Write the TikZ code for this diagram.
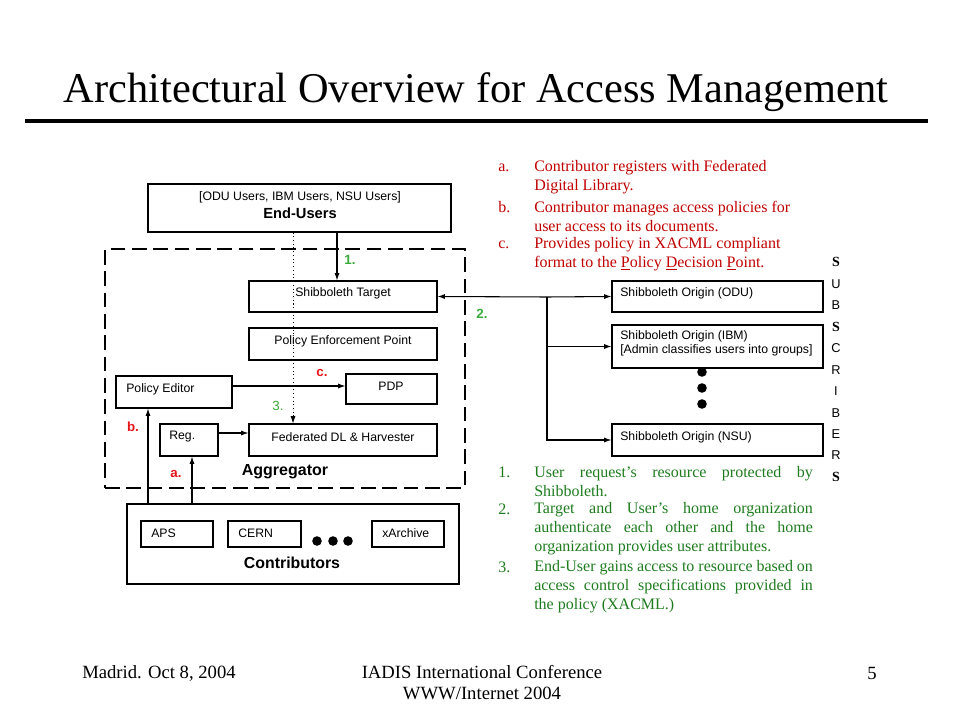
\documentclass[tikz,border=0pt]{standalone}
\usepackage{fontspec}
\setmainfont{Liberation Serif}
\newfontfamily\arialf{Liberation Sans}
\usetikzlibrary{arrows.meta,fit}
\definecolor{lred}{HTML}{C00000}
\definecolor{lgreen}{HTML}{1E7B1E}
\definecolor{dred}{HTML}{E8141B}
\definecolor{dgreen}{HTML}{3AAA3A}
\newcommand\jl[1]{\makebox[209pt][s]{#1}}
\begin{document}
\begin{tikzpicture}[x=0.75pt,y=-0.75pt,
  box/.style={draw, line width=0.8pt, inner sep=0pt},
  sf/.style={font=\arialf\fontsize{9.2}{11}\selectfont, inner sep=0pt},
  arr/.style={line width=0.8pt, -{Latex[length=5.5pt,width=3.8pt]}},
  lab/.style={font=\arialf\bfseries\fontsize{10}{12}\selectfont, inner sep=0pt},
  body/.style={font=\fontsize{12}{14.25}\selectfont, inner sep=0pt, align=left},
  foot/.style={font=\fontsize{14}{15.75}\selectfont, inner sep=0pt, align=center},
]
\useasboundingbox (0,0) rectangle (960,720);
% title
\node[font=\fontsize{31.8}{36}\selectfont, inner sep=0pt] (title) at (476,92) {Architectural Overview for Access Management};
\draw[line width=2.6pt] (25,121) -- (928,121);

% boxes
\node[box, fit={(148,184) (451,232)}] (eu) {};
\node[sf] (eut1) at (300,197) {[ODU Users, IBM Users, NSU Users]};
\node[font=\arialf\bfseries\fontsize{11}{13}\selectfont, inner sep=0pt] (eut2) at (300,213) {End-Users};
\node[box, line width=2.2pt, dash pattern=on 11pt off 5pt, fit={(105,249) (465,488)}] (agg) {};
\node[box, fit={(249,281) (437,312)}] (st) {};
\node[sf] (stt) at (343,293) {Shibboleth Target};
\node[box, fit={(249,328) (437,360)}] (pep) {};
\node[sf] (pept) at (343,341) {Policy Enforcement Point};
\node[box, fit={(346,374) (437,404)}] (pdp) {};
\node[sf] (pdpt) at (391,386) {PDP};
\node[box, fit={(116,376) (232,408)}] (pe) {};
\node[sf, anchor=west] (pet) at (126,389) {Policy Editor};
\node[box, fit={(160,424) (218,456)}] (reg) {};
\node[sf, anchor=west] (regt) at (169,437) {Reg.};
\node[box, fit={(249,424) (437,456)}] (fdl) {};
\node[sf] (fdlt) at (343,437) {Federated DL \& Harvester};
\node[font=\arialf\bfseries\fontsize{12}{14}\selectfont, inner sep=0pt] (aggt) at (285,472) {Aggregator};

\node[box, fit={(127,504) (459,584)}] (con) {};
\node[box, fit={(141,521) (213,547)}] (aps) {};
\node[sf, anchor=west] (apst) at (151,533) {APS};
\node[box, fit={(228,521) (301,547)}] (cern) {};
\node[sf, anchor=west] (cernt) at (238,533) {CERN};
\node[box, fit={(372,521) (444,547)}] (xar) {};
\node[sf, anchor=west] (xart) at (382,533) {xArchive};
\fill (317,541) circle[radius=4.8] (333,541) circle[radius=4.8] (348,541) circle[radius=4.8];
\node[font=\arialf\bfseries\fontsize{11.9}{14}\selectfont, inner sep=0pt] (cont) at (292,563) {Contributors};

\node[box, fit={(612,281) (823,312)}] (odu) {};
\node[sf, anchor=west] (odut) at (620,293) {Shibboleth Origin (ODU)};
\node[box, fit={(612,325) (823,368)}] (ibm) {};
\node[sf, anchor=west, align=left, font=\arialf\fontsize{9.2}{10.7}\selectfont] (ibmt) at (620,343) {Shibboleth Origin (IBM)\\{[Admin classifies users into groups]}};
\node[box, fit={(612,424) (823,456)}] (nsu) {};
\node[sf, anchor=west] (nsut) at (620,437) {Shibboleth Origin (NSU)};
\fill (702,372) circle[radius=4.8] (702,388) circle[radius=4.8] (702,404) circle[radius=4.8];

% SUBSCRIBERS
\node[font=\arialf\fontsize{9.6}{16.1}\selectfont, inner sep=0pt, align=center] (subs) at (836,369.5)
 {\textbf{\rmfamily\fontsize{10.5}{16.1}\selectfont S}\\U\\B\\\textbf{\rmfamily\fontsize{10.5}{16.1}\selectfont S}\\C\\R\\I\\B\\E\\R\\\textbf{\rmfamily\fontsize{10.5}{16.1}\selectfont S}};

% connectors
\coordinate (x1) at (337,0);
\coordinate (xd) at (293,0);
\coordinate (xb) at (148,0);
\coordinate (xa) at (192,0);
\coordinate (J) at (547,297);
\draw[arr] (eu.south -| x1) -- (st.north -| x1);
\draw[arr, dotted, line width=0.6pt] (eu.south -| xd) -- (fdl.north -| xd);
\draw[arr] ([yshift=4.5pt]pe.east) -- ([yshift=4.5pt]pe.east -| pdp.west);
\draw[arr] ([yshift=5.25pt]reg.east) -- ([yshift=5.25pt]reg.east -| fdl.west);
\draw[arr] (con.north -| xb) -- (pe.south -| xb);
\draw[arr] (con.north -| xa) -- (reg.south -| xa);
\draw[arr] (J) -- (st.east);
\draw[arr] (J) -- (odu.west);
\draw[arr] (J) |- (ibm.west);
\draw[arr] (J) |- (nsu.west);

% diagram labels
\node[lab, text=dgreen] (l1) at (350,260) {1.};
\node[lab, text=dgreen] (l2) at (482,314) {2.};
\node[lab, text=dgreen, font=\arialf\fontsize{10}{12}\selectfont] (l3) at (278,406) {3.};
\node[lab, text=dred] (lc) at (322,373) {c.};
\node[lab, text=dred] (lb) at (133,427) {b.};
\node[lab, text=dred] (la) at (176,474) {a.};

% red list
\begin{scope}[every node/.style={body, text=lred}]
\node[anchor=west] (ra) at (498,168) {a.};
\node[anchor=west] (rat) at (534,177) {Contributor registers with Federated\\Digital Library.};
\node[anchor=west] (rb) at (498,207) {b.};
\node[anchor=west] (rbt) at (534,216) {Contributor manages access policies for\\user access to its documents.};
\node[anchor=west] (rc) at (498,245) {c.};
\node[anchor=west] (rct) at (534,254) {Provides policy in XACML compliant\\format to the \underline{P}olicy \underline{D}ecision \underline{P}oint.};
\end{scope}

% green list
\begin{scope}[every node/.style={body, text=lgreen}]
\node[anchor=west] (g1) at (498,472) {1.};
\node[anchor=west] (g1t) at (534,482) {\jl{User request’s resource protected by}\\Shibboleth.};
\node[anchor=west] (g2) at (498,509) {2.};
\node[anchor=west] (g2t) at (534,529) {\jl{Target and User’s home organization}\\\jl{authenticate each other and the home}\\organization provides user attributes.};
\node[anchor=west] (g3) at (498,567) {3.};
\node[anchor=west] (g3t) at (534,587) {\jl{End-User gains access to resource based on}\\\jl{access control specifications provided in}\\the policy (XACML.)};
\end{scope}

% footer
\node[foot] (f1) at (159,673) {Madrid. Oct 8, 2004};
\node[foot] (f2) at (482,683) {IADIS International Conference\\WWW/Internet 2004};
\node[foot] (f3) at (872,673) {5};
\end{tikzpicture}
\end{document}
